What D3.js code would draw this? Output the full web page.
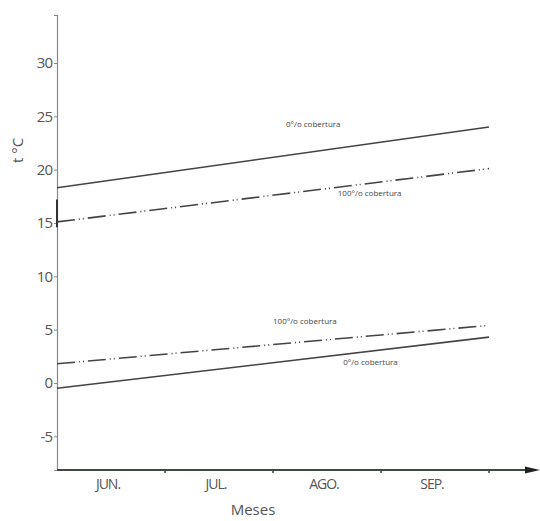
<!DOCTYPE html>
<html>
<head>
<meta charset="utf-8">
<script src="https://cdn.jsdelivr.net/npm/d3@7"></script>
<style>
  body { margin: 0; background: #fff; }
  svg text { font-family: "Open Sans", sans-serif; }
</style>
</head>
<body>
<div id="container"></div>
<script>
"use strict";

const width = 540;
const height = 521;

// data
const months = ["JUN.", "JUL.", "AGO.", "SEP."];
const yTicks = [-5, 0, 5, 10, 15, 20, 25, 30];
// temperature at start of June (0) and end of September (4)
const monthPos = [0, 4];
const solidHigh = [18.3, 24.0]; // 0% cobertura, upper
const dashHigh = [15.1, 20.1]; // 100% cobertura, upper
const dashLow = [1.8, 5.4]; // 100% cobertura, lower
const solidLow = [-0.5, 4.3]; // 0% cobertura, lower
const labelText = ["0°/o cobertura", "100°/o cobertura", "100°/o cobertura", "0°/o cobertura"];
const labelMonth = [2.12, 2.6, 2.0, 2.65];
const labelTemp = [24.0, 17.5, 5.5, 1.7];

const x0 = 57;
const xEnd = 489;
const yBottom = 470;
const yTop = 15;

const xScale = d3.scaleLinear().domain([0, 4]).range([x0, xEnd]);
const bandScale = d3.scaleBand().domain(months).range([x0, xEnd]);
const yScale = d3.scaleLinear().domain([-8.16, 34.5]).range([yBottom, yTop]);

const svg = d3
  .select("#container")
  .append("svg")
  .attr("width", width)
  .attr("height", height);

// y axis
const yAxis = d3
  .axisLeft(yScale)
  .tickValues(yTicks)
  .tickFormat((d) => String(d))
  .tickSize(3)
  .tickPadding(2);
const gy = svg
  .append("g")
  .attr("transform", `translate(${x0}, 0)`)
  .call(yAxis);
gy.select(".domain").attr("stroke", "#888").attr("stroke-width", 1.2);
gy.selectAll(".tick line").attr("stroke", "#888");
gy.selectAll(".tick text")
  .attr("fill", "#555")
  .style("font-size", "15px")
  .style("letter-spacing", "-1px");

// small thick mark on the y axis near 15-17
svg
  .append("line")
  .attr("x1", x0)
  .attr("x2", x0)
  .attr("y1", yScale(17.2))
  .attr("y2", yScale(14.6))
  .attr("stroke", "#333")
  .attr("stroke-width", 2);

svg
  .append("text")
  .attr("text-anchor", "middle")
  .attr("transform", `translate(23, ${yScale(21.8)}) rotate(-90)`)
  .attr("fill", "#555")
  .style("font-size", "15px")
  .text("t °C");

// x axis
const xAxis = d3.axisBottom(bandScale).tickSize(0).tickPadding(9);
const gx = svg
  .append("g")
  .attr("transform", `translate(-3, ${yBottom})`)
  .call(xAxis);
gx.select(".domain").remove();
gx.selectAll(".tick text")
  .attr("fill", "#555")
  .style("font-size", "14px")
  .style("letter-spacing", "-1px");

svg
  .append("line")
  .attr("x1", x0)
  .attr("x2", 528)
  .attr("y1", yBottom)
  .attr("y2", yBottom)
  .attr("stroke", "#3d4a40")
  .attr("stroke-width", 2);

svg
  .append("path")
  .attr("d", `M525,${yBottom - 3.5}L540,${yBottom}L525,${yBottom + 3.5}Z`)
  .attr("fill", "#222");

// tick marks at month boundaries
svg
  .selectAll(".mtick")
  .data(months)
  .enter()
  .append("line")
  .attr("x1", (d) => bandScale(d) + bandScale.bandwidth())
  .attr("x2", (d) => bandScale(d) + bandScale.bandwidth())
  .attr("y1", yBottom)
  .attr("y2", yBottom + 3)
  .attr("stroke", "#444")
  .attr("stroke-width", 1.5);

svg
  .append("text")
  .attr("text-anchor", "middle")
  .attr("x", 253)
  .attr("y", 515)
  .attr("fill", "#555")
  .style("font-size", "15px")
  .text("Meses");

// lines
const series = [
  { values: solidHigh, dash: null },
  { values: dashHigh, dash: "18,4,1,3,1,4" },
  { values: dashLow, dash: "18,4,1,3,1,4" },
  { values: solidLow, dash: null },
];

const line = d3
  .line()
  .x((d) => xScale(d[0]))
  .y((d) => yScale(d[1]));

svg
  .selectAll(".series")
  .data(series)
  .enter()
  .append("path")
  .attr("d", (s) => line(monthPos.map((m, i) => [m, s.values[i]])))
  .attr("fill", "none")
  .attr("stroke", "#444")
  .attr("stroke-width", 1.6)
  .attr("stroke-dasharray", (s) => s.dash);

svg
  .selectAll(".lbl")
  .data(labelText)
  .enter()
  .append("text")
  .attr("x", (_d, i) => xScale(labelMonth[i]))
  .attr("y", (_d, i) => yScale(labelTemp[i]))
  .attr("fill", "#444")
  .style("font-size", "8px")
  .text((d) => d);
</script>
</body>
</html>
